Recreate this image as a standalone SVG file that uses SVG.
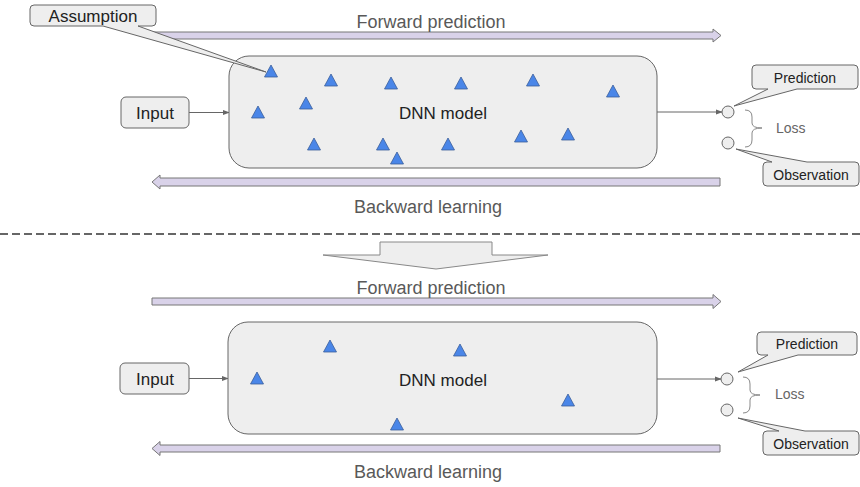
<svg xmlns="http://www.w3.org/2000/svg" width="860" height="487" viewBox="0 0 860 487">
<defs>
<style>
text{font-family:"Liberation Sans",Arial,sans-serif}
.lbl{font-size:17px;fill:#222;text-anchor:middle}
.sm{font-size:14px;fill:#222;text-anchor:middle}
.flow{font-size:18px;fill:#595959;text-anchor:middle}
.loss{font-size:14px;fill:#666}
.box{fill:#eeeeee;stroke:#666;stroke-width:1}
.band{fill:#d9d2e9;stroke:#777;stroke-width:1}
.tri{fill:#4a86e8;stroke:#3b5e99;stroke-width:0.8}
.wire{fill:none;stroke:#666;stroke-width:1}
.brace{fill:none;stroke:#888;stroke-width:1}
</style>
<marker id="ah" viewBox="0 0 8 8" refX="7" refY="4" markerWidth="7" markerHeight="7" markerUnits="userSpaceOnUse" orient="auto">
<path d="M0,1 L8,4 L0,7 Z" fill="#666"/>
</marker>
<path id="t" d="M0,-6 L6.5,6 L-6.5,6 Z"/>
</defs>

<!-- bands -->
<g id="bands">
<polygon class="band" points="152,32 713,32 713,29 721,35.5 713,42 713,39 152,39"/>
<polygon class="band" points="720,178 160,178 160,175 152,182 160,189 160,186 720,186"/>
<polygon class="band" points="152,298 713,298 713,294.5 721,301.5 713,308.5 713,305 152,305"/>
<polygon class="band" points="720,445 160,445 160,441.5 152,448.5 160,455.5 160,452 720,452"/>
<text class="flow" x="431" y="28">Forward prediction</text>
<text class="flow" x="428" y="213">Backward learning</text>
<text class="flow" x="431" y="294">Forward prediction</text>
<text class="flow" x="428" y="478">Backward learning</text>
</g>

<!-- divider -->
<line x1="0" y1="234" x2="860" y2="234" stroke="#666" stroke-width="2" stroke-dasharray="8 4"/>
<polygon id="down-arrow" points="380,242 492,242 492,255 548,255 436,269 323,255 380,255" fill="#eeeeee" stroke="#888" stroke-width="1"/>

<!-- connectors -->
<g id="connectors">
<line class="wire" x1="189" y1="112.5" x2="229" y2="112.5" marker-end="url(#ah)"/>
<line class="wire" x1="657" y1="112" x2="722" y2="112" marker-end="url(#ah)"/>
<line class="wire" x1="189" y1="378.5" x2="228" y2="378.5" marker-end="url(#ah)"/>
<line class="wire" x1="657" y1="379" x2="721" y2="379" marker-end="url(#ah)"/>
</g>

<!-- top section -->
<g id="input-top">
<rect class="box" x="121" y="97" width="68" height="31" rx="5"/>
<text class="lbl" x="155" y="119">Input</text>
</g>
<g id="dnn-top">
<rect class="box" x="229" y="56" width="428" height="112" rx="20"/>
<text class="lbl" x="443" y="119">DNN model</text>
<g class="tri">
<use href="#t" x="271" y="71"/>
<use href="#t" x="331" y="80"/>
<use href="#t" x="391" y="83"/>
<use href="#t" x="461" y="83"/>
<use href="#t" x="533" y="80"/>
<use href="#t" x="613" y="91"/>
<use href="#t" x="258" y="112"/>
<use href="#t" x="306" y="103"/>
<use href="#t" x="314" y="144"/>
<use href="#t" x="383" y="144"/>
<use href="#t" x="397" y="158"/>
<use href="#t" x="448" y="144"/>
<use href="#t" x="521" y="136"/>
<use href="#t" x="568" y="134"/>
</g>
</g>
<g id="assumption">
<path class="box" d="M34,5 H152 Q156,5 156,9 V22 Q156,26 152,26 H138 L266,72 L103,26 H34 Q30,26 30,22 V9 Q30,5 34,5 Z"/>
<text class="lbl" x="93" y="22">Assumption</text>
</g>
<g id="outputs-top">
<circle class="box" cx="728" cy="112" r="6"/>
<circle class="box" cx="728" cy="143" r="6"/>
<path class="brace" d="M745,110 Q752,110 752,117 V123 Q752,128 762,128 Q752,128 752,133 V140 Q752,147 745,147"/>
<text class="loss" x="776" y="133">Loss</text>
</g>
<g id="prediction-top">
<path class="box" d="M756,65 H854 Q858,65 858,69 V85 Q858,89 854,89 H797 L734,106 L768,89 H756 Q752,89 752,85 V69 Q752,65 756,65 Z"/>
<text class="sm" x="805" y="83">Prediction</text>
</g>
<g id="observation-top">
<path class="box" d="M767,162 H772 L736,149 L807,162 H855 Q859,162 859,166 V182 Q859,186 855,186 H767 Q763,186 763,182 V166 Q763,162 767,162 Z"/>
<text class="sm" x="811" y="180">Observation</text>
</g>

<!-- bottom section -->
<g id="input-bottom">
<rect class="box" x="120" y="363" width="69" height="31" rx="5"/>
<text class="lbl" x="155" y="385">Input</text>
</g>
<g id="dnn-bottom">
<rect class="box" x="228" y="322" width="429" height="112" rx="20"/>
<text class="lbl" x="443" y="386">DNN model</text>
<g class="tri">
<use href="#t" x="330" y="346"/>
<use href="#t" x="460" y="350"/>
<use href="#t" x="257" y="378"/>
<use href="#t" x="568" y="400"/>
<use href="#t" x="397" y="424"/>
</g>
</g>
<g id="outputs-bottom">
<circle class="box" cx="727" cy="379" r="6"/>
<circle class="box" cx="727" cy="410" r="6"/>
<path class="brace" d="M743,377 Q750,377 750,384 V390 Q750,395 760,395 Q750,395 750,400 V406 Q750,413 743,413"/>
<text class="loss" x="775" y="399">Loss</text>
</g>
<g id="prediction-bottom">
<path class="box" d="M761,332 H853 Q857,332 857,336 V351 Q857,355 853,355 H798 L738,372 L768,355 H761 Q757,355 757,351 V336 Q757,332 761,332 Z"/>
<text class="sm" x="807" y="349">Prediction</text>
</g>
<g id="observation-bottom">
<path class="box" d="M767,431 H779 L738,418 L805,431 H855 Q859,431 859,435 V451 Q859,455 855,455 H767 Q763,455 763,451 V435 Q763,431 767,431 Z"/>
<text class="sm" x="811" y="449">Observation</text>
</g>
</svg>
